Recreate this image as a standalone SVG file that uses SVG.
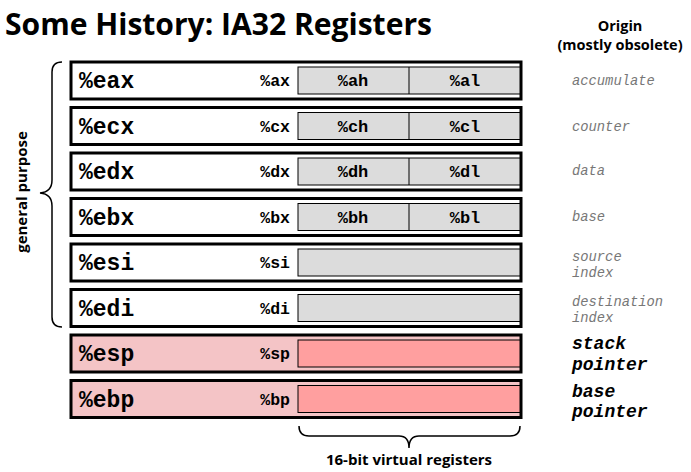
<svg xmlns="http://www.w3.org/2000/svg" width="691" height="472" viewBox="0 0 691 472">
<style>
.title{font-family:"Open Sans","Liberation Sans",sans-serif;font-weight:bold;font-size:30px;fill:#000}
.hdr{font-family:"Open Sans","Liberation Sans",sans-serif;font-weight:bold;font-size:14.5px;fill:#000;text-anchor:middle}
.box{fill:#fff;stroke:#000;stroke-width:3}
.boxr{fill:#f4c4c6;stroke:#000;stroke-width:3}
.sub{fill:#dcdcdc;stroke:#000;stroke-width:1}
.subr{fill:#ff9f9f;stroke:#000;stroke-width:1}
.reg{font-family:"Liberation Mono","Courier New",monospace;font-weight:bold;font-size:23px;fill:#000}
.r16{font-family:"Liberation Mono","Courier New",monospace;font-weight:bold;font-size:16.5px;fill:#000;text-anchor:end}
.r8{font-family:"Liberation Mono","Courier New",monospace;font-weight:bold;font-size:17px;fill:#000;text-anchor:middle}
.org{font-family:"Liberation Mono","Courier New",monospace;font-style:italic;font-size:13.8px;fill:#777}
.orgb{font-family:"Liberation Mono","Courier New",monospace;font-style:italic;font-weight:bold;font-size:18px;fill:#000}
.brace{fill:none;stroke:#000;stroke-width:1.5}
.lbl{font-family:"Open Sans","Liberation Sans",sans-serif;font-weight:bold;font-size:15px;fill:#000}
</style>
<text class="title" x="5" y="35" textLength="427" lengthAdjust="spacingAndGlyphs">Some History: IA32 Registers</text>
<text class="hdr" x="620" y="31">Origin</text>
<text class="hdr" x="620" y="50">(mostly obsolete)</text>

<g id="eax">
<rect class="box" x="71" y="62" width="450" height="37"/>
<rect class="sub" x="298" y="67" width="222" height="27"/>
<line x1="409" y1="67" x2="409" y2="94" stroke="#000" stroke-width="1"/>
<text class="reg" x="79" y="88">%eax</text>
<text class="r16" x="290" y="86">%ax</text>
<text class="r8" x="353" y="86">%ah</text>
<text class="r8" x="465" y="86">%al</text>
<text class="org" x="572" y="85">accumulate</text>
</g>
<g id="ecx">
<rect class="box" x="71" y="107.5" width="450" height="37"/>
<rect class="sub" x="298" y="112.5" width="222" height="27"/>
<line x1="409" y1="112.5" x2="409" y2="139.5" stroke="#000" stroke-width="1"/>
<text class="reg" x="79" y="133.5">%ecx</text>
<text class="r16" x="290" y="131.5">%cx</text>
<text class="r8" x="353" y="131.5">%ch</text>
<text class="r8" x="465" y="131.5">%cl</text>
<text class="org" x="572" y="131">counter</text>
</g>
<g id="edx">
<rect class="box" x="71" y="153" width="450" height="37"/>
<rect class="sub" x="298" y="158" width="222" height="27"/>
<line x1="409" y1="158" x2="409" y2="185" stroke="#000" stroke-width="1"/>
<text class="reg" x="79" y="179">%edx</text>
<text class="r16" x="290" y="177">%dx</text>
<text class="r8" x="353" y="177">%dh</text>
<text class="r8" x="465" y="177">%dl</text>
<text class="org" x="572" y="175">data</text>
</g>
<g id="ebx">
<rect class="box" x="71" y="198.5" width="450" height="37"/>
<rect class="sub" x="298" y="203.5" width="222" height="27"/>
<line x1="409" y1="203.5" x2="409" y2="230.5" stroke="#000" stroke-width="1"/>
<text class="reg" x="79" y="224.5">%ebx</text>
<text class="r16" x="290" y="222.5">%bx</text>
<text class="r8" x="353" y="222.5">%bh</text>
<text class="r8" x="465" y="222.5">%bl</text>
<text class="org" x="572" y="221">base</text>
</g>
<g id="esi">
<rect class="box" x="71" y="244" width="450" height="37"/>
<rect class="sub" x="298" y="249" width="222" height="27"/>
<text class="reg" x="79" y="270">%esi</text>
<text class="r16" x="290" y="268">%si</text>
<text class="org" x="572" y="261">source</text>
<text class="org" x="572" y="277">index</text>
</g>
<g id="edi">
<rect class="box" x="71" y="289.5" width="450" height="37"/>
<rect class="sub" x="298" y="294.5" width="222" height="27"/>
<text class="reg" x="79" y="315.5">%edi</text>
<text class="r16" x="290" y="313.5">%di</text>
<text class="org" x="572" y="306">destination</text>
<text class="org" x="572" y="322">index</text>
</g>
<g id="esp">
<rect class="boxr" x="71" y="335" width="450" height="37"/>
<rect class="subr" x="298" y="340" width="222" height="27"/>
<text class="reg" x="79" y="361">%esp</text>
<text class="r16" x="290" y="359">%sp</text>
<text class="orgb" x="572" y="349">stack</text>
<text class="orgb" x="572" y="370">pointer</text>
</g>
<g id="ebp">
<rect class="boxr" x="71" y="380.5" width="450" height="37"/>
<rect class="subr" x="298" y="385.5" width="222" height="27"/>
<text class="reg" x="79" y="406.5">%ebp</text>
<text class="r16" x="290" y="404.5">%bp</text>
<text class="orgb" x="572" y="397">base</text>
<text class="orgb" x="572" y="417">pointer</text>
</g>

<g id="connectors">
<path class="brace" d="M62,62 Q52,62 52,72 L52,180 Q52,192 40,193 Q52,194 52,206 L52,317 Q52,327 62,327"/>
<path class="brace" d="M299,426 Q299,436 309,436 L399,436 Q409,436 409,448 Q409,436 419,436 L510,436 Q520,436 520,426"/>
</g>
<g id="labels">
<text class="lbl" transform="translate(27,192) rotate(-90)" text-anchor="middle">general purpose</text>
<text class="lbl" x="409" y="465" text-anchor="middle">16-bit virtual registers</text>
</g>
</svg>
